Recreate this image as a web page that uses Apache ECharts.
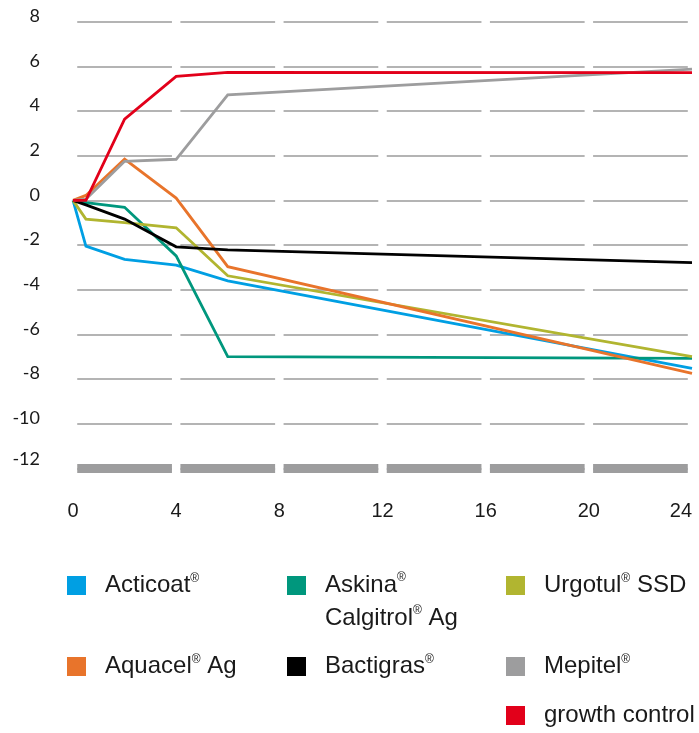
<!DOCTYPE html>
<html>
<head>
<meta charset="utf-8">
<script src="https://cdn.jsdelivr.net/npm/echarts@6/dist/echarts.min.js"></script>
<style>
html,body{margin:0;padding:0;background:#fff;}
#chart{width:699px;height:733px;}
</style>
</head>
<body>
<div id="chart"></div>
<script>
// ---- data ----
const hours = [0, 0.5, 2, 4, 6, 24];
const xTicks = [0, 4, 8, 12, 16, 20, 24];
const yTicks = [8, 6, 4, 2, 0, -2, -4, -6, -8, -10, -12];

const seriesNames = ['Acticoat', 'Askina Calgitrol Ag', 'Urgotul SSD', 'Aquacel Ag', 'Bactigras', 'Mepitel', 'growth control'];
const acticoat  = [0, -2.05, -2.64, -2.90, -3.61, -7.52];
const askina    = [0, -0.10, -0.31, -2.49, -7.00, -7.08];
const urgotul   = [0, -0.84, -1.00, -1.23, -3.38, -7.00];
const aquacel   = [0,  0.22,  1.85,  0.10, -2.97, -7.75];
const bactigras = [0, -0.20, -0.84, -2.08, -2.22, -2.79];
const mepitel   = [0,  0.05,  1.75,  1.84,  4.72,  5.88];
const growth    = [0,  0.00,  3.64,  5.55,  5.73,  5.72];

const legendLabels = {
  'Acticoat': 'Acticoat{sup|®}',
  'Askina Calgitrol Ag': '{l|Askina}{sup2|®}\n{l|Calgitrol}{sup2|®}{l| Ag}',
  'Urgotul SSD': 'Urgotul{sup|®} SSD',
  'Aquacel Ag': 'Aquacel{sup|®} Ag',
  'Bactigras': 'Bactigras{sup|®}',
  'Mepitel': 'Mepitel{sup|®}',
  'growth control': 'growth control'
};

// ---- styles ----
const colors = {
  'Acticoat': '#009fe3',
  'Askina Calgitrol Ag': '#00977d',
  'Urgotul SSD': '#b1b530',
  'Aquacel Ag': '#e8742b',
  'Bactigras': '#000000',
  'Mepitel': '#9d9d9e',
  'growth control': '#e2001a'
};
const values = [acticoat, askina, urgotul, aquacel, bactigras, mepitel, growth];
const drawOrder = [1, 0, 2, 3, 4, 5, 6];

const FONT = '"Liberation Sans", Arial, sans-serif';
const REG = 'Lato, "Open Sans", "Liberation Sans", sans-serif';
const textColor = '#1a1a1a';
const LFS = 24;

const dash = [94.7, 8.47];
const dashOff = 98.93;

const series = drawOrder.map(i => ({
  name: seriesNames[i],
  type: 'line',
  data: hours.map((h, k) => [h, values[i][k]]),
  symbol: 'none',
  silent: true,
  color: colors[seriesNames[i]],
  lineStyle: { width: 2.8, color: colors[seriesNames[i]], join: 'miter' },
  z: 3 + i
}));

const legendPos = {
  'Acticoat': [67, 572.5],
  'Askina Calgitrol Ag': [287, 536],
  'Urgotul SSD': [506, 572.5],
  'Aquacel Ag': [67, 653.5],
  'Bactigras': [287, 653.5],
  'Mepitel': [506, 653.5],
  'growth control': [506, 702.5]
};

const legends = seriesNames.map(n => {
  const isAsk = n === 'Askina Calgitrol Ag';
  return {
    data: [n],
    left: legendPos[n][0],
    top: legendPos[n][1],
    padding: 0,
    icon: 'rect',
    itemWidth: 19,
    itemHeight: 19,
    selectedMode: false,
    formatter: name => legendLabels[name],
    textStyle: {
      fontFamily: FONT,
      fontSize: LFS,
      color: textColor,
      lineHeight: isAsk ? 33 : 26,
      padding: isAsk ? [33, 0, 0, 14] : [0, 0, 0, 14],
      rich: {
        sup: { fontFamily: FONT, fontSize: 12, color: textColor, verticalAlign: 'top', lineHeight: 26 },
        sup2: { fontFamily: FONT, fontSize: 12, color: textColor, verticalAlign: 'top', lineHeight: 33, padding: [3, 0, 0, 0] },
        l: { fontFamily: FONT, fontSize: LFS, color: textColor, lineHeight: 33 }
      }
    }
  };
});

const chart = echarts.init(document.getElementById('chart'), null, { renderer: 'canvas' });
chart.setOption({
  animation: false,
  backgroundColor: '#ffffff',
  grid: { left: 73, right: 7, top: 21.7, bottom: 264.7, containLabel: false },
  xAxis: {
    type: 'value',
    min: xTicks[0],
    max: xTicks[xTicks.length - 1],
    interval: 4,
    axisLine: { show: true, onZero: false, lineStyle: { color: '#9d9d9e', width: 9, cap: 'butt', type: dash, dashOffset: dashOff } },
    axisTick: { show: false },
    splitLine: { show: false },
    axisLabel: {
      show: true, margin: 33, fontFamily: FONT, fontSize: 20, color: textColor,
      showMinLabel: true, showMaxLabel: true, alignMaxLabel: 'right',
      formatter: v => xTicks.includes(v) ? String(v) : ''
    }
  },
  yAxis: {
    type: 'value',
    min: yTicks[yTicks.length - 1],
    max: yTicks[0],
    interval: 2,
    axisLine: { show: false },
    axisTick: { show: false },
    splitLine: { show: true, lineStyle: { color: '#b4b4b4', width: 2, cap: 'butt', type: dash, dashOffset: dashOff } },
    axisLabel: {
      show: true, margin: 33, fontFamily: REG, fontSize: 18, color: textColor,
      verticalAlign: 'bottom', lineHeight: 11,
      formatter: v => !yTicks.includes(v) ? '' : (v === yTicks[yTicks.length - 1] ? '{low|' + v + '}' : String(v)),
      rich: {
        low: { fontFamily: REG, fontSize: 18, color: textColor, lineHeight: 19 }
      }
    }
  },
  legend: legends,
  series: series
});
</script>
</body>
</html>
